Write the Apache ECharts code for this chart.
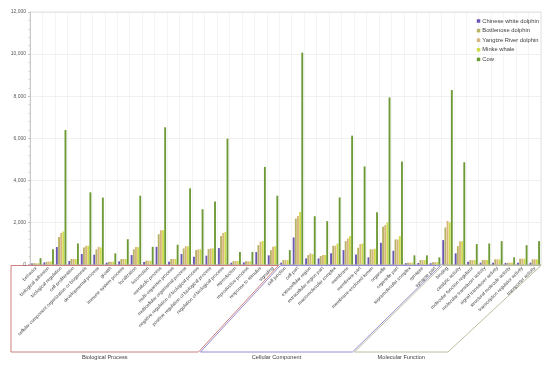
<!DOCTYPE html>
<html><head><meta charset="utf-8">
<script src="https://cdn.jsdelivr.net/npm/echarts@6/dist/echarts.min.js"></script>
<style>html,body{margin:0;padding:0;background:#fff}#c{width:550px;height:368px}</style>
</head><body><div id="c"></div>
<script>
const categories = ["behavior","biological adhesion","biological regulation","cell proliferation","cellular component organization or biogenesis","developmental process","growth","immune system process","localization","locomotion","metabolic process","multi-organism process","multicellular organismal process","negative regulation of biological process","positive regulation of biological process","regulation of biological process","reproduction","reproductive process","response to stimulus","signaling",
"cell junction","cell part","extracellular region","extracellular region part","macromolecular complex","membrane","membrane part","membrane-enclosed lumen","organelle","organelle part","supramolecular complex","synapse","synapse part",
"binding","catalytic activity","molecular function regulator","molecular transducer activity","signal transducer activity","structural molecule activity","transcription regulator activity","transporter activity"];
const groupNames = ["Biological Process","Cellular Component","Molecular Function"];
const groupSizes = [20, 13, 8];
const seriesNames = ["Chinese white dolphin","Bottlenose dolphin","Yangtze River dolphin","Minke whale","Cow"];
const chineseWhiteDolphin = [50,100,830,165,500,465,85,150,450,120,840,130,500,370,420,780,85,100,590,435, 85,1285,290,290,530,685,480,340,1030,655,60,70,60, 1160,530,130,85,85,70,85,85];
const bottlenoseDolphin = [60,130,1310,260,810,720,130,260,720,180,1440,260,765,685,735,1360,165,150,920,685, 210,2185,450,400,890,1110,795,720,1790,1190,85,210,110, 1760,875,210,210,245,85,275,245];
const yangtzeRiverDolphin = [60,140,1500,260,890,840,130,260,830,180,1630,260,870,720,765,1500,165,150,1080,840, 210,2310,530,450,890,1240,970,720,1870,1190,85,210,110, 2070,1110,210,210,245,85,275,245];
const minkeWhale = [60,150,1570,260,890,810,130,260,830,180,1630,260,870,720,765,1540,165,150,1120,870, 210,2500,490,450,1000,1350,1000,750,2000,1350,85,210,110, 2000,1110,210,210,245,85,275,245];
const cow = [300,720,6390,1000,3430,3180,530,1200,3270,840,6520,940,3620,2625,3000,5980,600,600,4640,3270, 685,10070,2295,2060,3190,6125,4660,2480,7940,4900,435,435,340, 8290,4860,970,1000,1110,340,920,1110];
const yTicks = [0,2000,4000,6000,8000,10000,12000];

const colors = ["#6a55b5","#b8b266","#d9b57e","#cfdc4a","#6e9a36"];
const seriesData = [chineseWhiteDolphin,bottlenoseDolphin,yangtzeRiverDolphin,minkeWhale,cow];
const chart = echarts.init(document.getElementById('c'));
const font = "Liberation Sans, Arial, sans-serif";
chart.setOption({
  animation:false,
  color:colors,
  grid:{left:30,right:9,top:12,bottom:103.5,show:true,borderColor:"#d9d9d9",borderWidth:0.8},
  legend:{orient:"vertical",right:6,top:13,itemWidth:3.5,itemHeight:3.5,itemGap:3.6,icon:"rect",
    textStyle:{fontSize:5.8,color:"#404040",fontFamily:font,padding:[0,0,0,-3]},
    data:seriesNames},
  xAxis:{type:"category",data:categories,
    axisLine:{lineStyle:{color:"#bfbfbf",width:0.8}},
    axisTick:{show:false},
    splitLine:{show:true,interval:0,lineStyle:{color:"#ececec",width:0.6}},
    axisLabel:{interval:0,rotate:45,fontSize:4.7,color:"#404040",fontFamily:font,margin:3}},
  yAxis:{type:"value",min:yTicks[0],max:yTicks[yTicks.length-1],interval:2000,
    axisLine:{show:true,lineStyle:{color:"#bfbfbf",width:0.8}},
    axisTick:{show:true,length:2,lineStyle:{color:"#bfbfbf"}},
    minorTick:{show:true,splitNumber:5,length:1.5,lineStyle:{color:"#d0d0d0"}},
    splitLine:{lineStyle:{color:"#e6e6e6",width:0.6}},
    axisLabel:{fontSize:5,color:"#595959",fontFamily:font,margin:4,
      formatter:v=>v.toLocaleString('en-US')}},
  series:seriesData.map((d,i)=>({name:seriesNames[i],type:"bar",data:d,barGap:"15%",barCategoryGap:"16%"}))
});

// group brackets derived from category positions
function px(i){return chart.convertToPixel({xAxisIndex:0},i);}
const y0 = chart.convertToPixel({yAxisIndex:0},0)+1;
const yb = 352;
const half = (px(1)-px(0))/2;
const bounds=[]; let acc=0;
groupSizes.forEach(s=>{bounds.push([px(acc)-half, px(acc+s-1)+half]); acc+=s;});
const lineColors=["#c0605c","#7f72c6","#a8ad88"];
const slant=[80,88,93];
const els=[];
let prevRb = null;
bounds.forEach((b,g)=>{
  const l = g===0 ? 11 : b[0]+1.2;
  const lb = g===0 ? 11 : prevRb+2;
  const r = g===bounds.length-1 ? b[1] : b[1]-0.8;
  const rb = r-slant[g];
  prevRb = rb;
  els.push({type:"polyline",shape:{points:[[l,y0],[r,y0],[rb,yb],[lb,yb],[l,y0]]},
    style:{stroke:lineColors[g],lineWidth:0.8,fill:null},silent:true});
  els.push({type:"text",style:{text:groupNames[g],x:(lb+rb)/2,y:yb+5.5,align:"center",verticalAlign:"middle",
    fontSize:5.6,fill:"#404040",fontFamily:font},silent:true});
});
chart.setOption({graphic:els});
</script></body></html>
